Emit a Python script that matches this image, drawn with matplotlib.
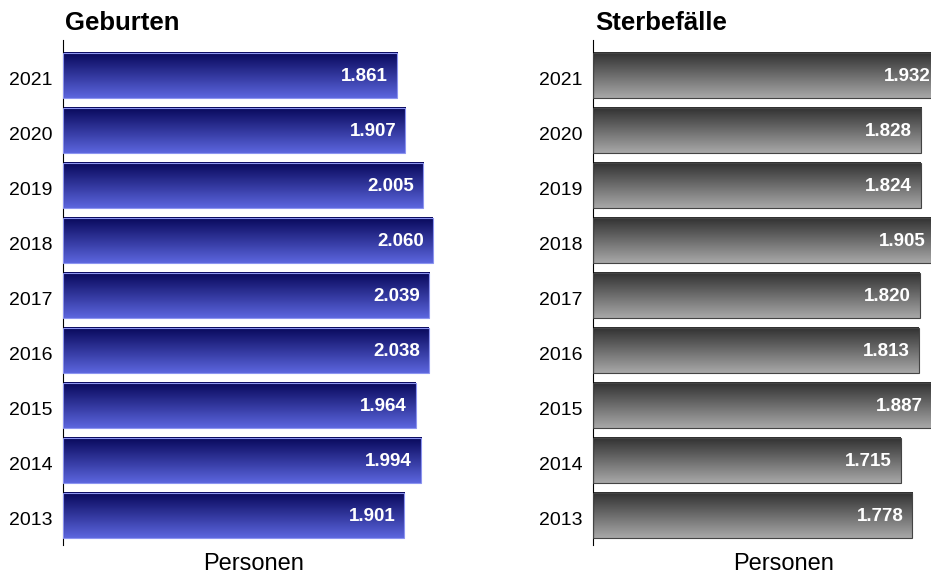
"""Geburten und Sterbefälle 2013-2021 als horizontale Balken mit Farbverlauf."""
import matplotlib.pyplot as plt
import numpy as np
from matplotlib.colors import LinearSegmentedColormap

plt.rcParams["font.family"] = ["Liberation Sans", "DejaVu Sans"]

years = ["2013", "2014", "2015", "2016", "2017", "2018", "2019", "2020", "2021"]
births = [1901, 1994, 1964, 2038, 2039, 2060, 2005, 1907, 1861]
deaths = [1778, 1715, 1887, 1813, 1820, 1905, 1824, 1828, 1932]

# (title, values, gradient top, gradient bottom, edge colour)
PANELS = [
    ("Geburten", births, "#07075a", "#5c66de", "#8c94f0"),
    ("Sterbefälle", deaths, "#303030", "#a8a8a8", "#444444"),
]


def fmt(v):
    return f"{v:,}".replace(",", ".")


fig = plt.figure(figsize=(9.31, 5.76), dpi=100)
lefts = [0.0677, 0.637]
grad = np.linspace(0, 1, 256).reshape(-1, 1)

for left, (title, vals, top, bottom, edge) in zip(lefts, PANELS):
    ax = fig.add_axes([left, 0.0538, 0.4243, 0.8767])
    cmap = LinearSegmentedColormap.from_list("g", [top, bottom])
    pos = np.arange(len(years))
    bars = ax.barh(pos, vals, height=0.82, facecolor="none", edgecolor=edge,
                   linewidth=0.8, zorder=3)
    for b, v in zip(bars, vals):
        x0, y0, w, h = b.get_x(), b.get_y(), b.get_width(), b.get_height()
        ax.imshow(grad, cmap=cmap, aspect="auto", extent=[x0, x0 + w, y0, y0 + h],
                  origin="upper", zorder=2)
        ax.text(x0 + w - 50, y0 + h / 2 - 0.03, fmt(v), color="white", fontsize=13.5,
                fontweight="bold", ha="right", va="center", zorder=4)

    ax.set_xlim(0, 2200)
    ax.set_ylim(-0.545, 8.64)
    # year labels sit a few pixels below the bar centres in the original
    ax.set_yticks(pos - 0.055)
    ax.set_yticklabels(years, fontsize=14)
    ax.tick_params(axis="y", length=0, pad=7.5)
    ax.set_xticks([])
    for s in ("top", "right", "bottom"):
        ax.spines[s].set_visible(False)
    ax.spines["left"].set_linewidth(0.8)
    ax.set_xlabel("Personen", fontsize=17, x=0.483, labelpad=6)
    ax.set_title(title, fontsize=18.5, fontweight="bold", loc="left", pad=7, x=0.005)

fig.savefig("out.png", dpi=100)
